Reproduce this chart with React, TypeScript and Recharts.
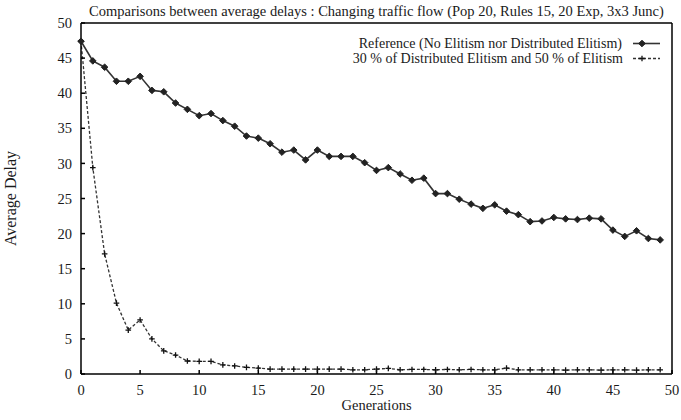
import React from "react";
import { LineChart, Line, XAxis, YAxis, Legend } from "recharts";

const generations = [
  0, 1, 2, 3, 4, 5, 6, 7, 8, 9, 10, 11, 12, 13, 14, 15, 16, 17, 18, 19, 20, 21, 22, 23, 24,
  25, 26, 27, 28, 29, 30, 31, 32, 33, 34, 35, 36, 37, 38, 39, 40, 41, 42, 43, 44, 45, 46, 47, 48, 49,
];

const referenceDelay = [
  47.4, 44.6, 43.7, 41.7, 41.7, 42.4, 40.4, 40.2, 38.6, 37.7,
  36.8, 37.1, 36.1, 35.3, 33.9, 33.6, 32.8, 31.6, 31.9, 30.5,
  31.9, 31.0, 31.0, 31.0, 30.1, 29.0, 29.4, 28.5, 27.6, 27.9,
  25.7, 25.7, 24.9, 24.2, 23.6, 24.1, 23.2, 22.7, 21.7, 21.8,
  22.3, 22.1, 22.0, 22.2, 22.1, 20.5, 19.6, 20.4, 19.3, 19.1,
];

const elitismDelay = [
  47.4, 29.4, 17.1, 10.1, 6.25, 7.7, 5.0, 3.3, 2.7, 1.85,
  1.8, 1.8, 1.3, 1.15, 0.95, 0.85, 0.7, 0.7, 0.7, 0.7,
  0.7, 0.7, 0.7, 0.6, 0.6, 0.7, 0.8, 0.6, 0.65, 0.65,
  0.6, 0.65, 0.6, 0.65, 0.6, 0.6, 0.85, 0.6, 0.6, 0.6,
  0.6, 0.55, 0.6, 0.6, 0.55, 0.6, 0.6, 0.55, 0.6, 0.6,
];

const seriesNames = [
  "Reference (No Elitism nor Distributed Elitism)",
  "30 % of Distributed Elitism and 50 % of Elitism",
];

const xTicks = [0, 5, 10, 15, 20, 25, 30, 35, 40, 45, 50];
const yTicks = [0, 5, 10, 15, 20, 25, 30, 35, 40, 45, 50];

const title =
  "Comparisons between average delays : Changing traffic flow (Pop 20, Rules 15, 20 Exp, 3x3 Junc)";

const FONT = '"Liberation Serif", "Times New Roman", serif';
const FS = 14.5;
const INK = "#1a1a1a";

const data = generations.map((g, i) => ({
  gen: g,
  reference: referenceDelay[i],
  elitism: elitismDelay[i],
}));

// filled diamond marker for the reference run
const Diamond = (props: any) => {
  const { cx, cy, index } = props;
  if (cx == null || cy == null) return <g key={`d-${index}`} />;
  const r = 3.3;
  return (
    <path
      key={`d-${index}`}
      d={`M${cx},${cy - r}L${cx + r},${cy}L${cx},${cy + r}L${cx - r},${cy}Z`}
      fill="#222"
      stroke="#222"
      strokeWidth={1}
    />
  );
};

// plus marker for the elitism run
const Plus = (props: any) => {
  const { cx, cy, index } = props;
  if (cx == null || cy == null) return <g key={`p-${index}`} />;
  const r = 2.8;
  return (
    <path
      key={`p-${index}`}
      d={`M${cx - r},${cy}L${cx + r},${cy}M${cx},${cy - r}L${cx},${cy + r}`}
      stroke="#111"
      strokeWidth={1.3}
      fill="none"
    />
  );
};

const LegendBox = () => (
  <svg width={340} height={42} style={{ display: "block" }}>
    <text x={292} y={18} textAnchor="end" fontFamily={FONT} fontSize={14} fill={INK}>
      {seriesNames[0]}
    </text>
    <line x1={303} x2={330} y1={13.5} y2={13.5} stroke="#333" strokeWidth={1.6} />
    <Diamond cx={312} cy={13.5} index={0} />
    <text x={293} y={33} textAnchor="end" fontFamily={FONT} fontSize={14} fill={INK}>
      {seriesNames[1]}
    </text>
    <line x1={303} x2={330} y1={28.5} y2={28.5} stroke="#333" strokeWidth={1.3} strokeDasharray="3 2" />
    <Plus cx={312} cy={28.5} index={1} />
  </svg>
);

export default function App() {
  const tickStyle = { fontFamily: FONT, fontSize: FS, fill: INK };
  return (
    <div style={{ position: "absolute", left: 0, top: 0, width: 681, height: 420, background: "#fff" }}>
      <div
        style={{
          position: "absolute",
          left: 81,
          top: 3,
          width: 591,
          textAlign: "center",
          fontFamily: FONT,
          fontSize: FS,
          lineHeight: "16px",
          color: INK,
          whiteSpace: "nowrap",
        }}
      >
        {title}
      </div>
      <LineChart width={681} height={420} data={data} margin={{ top: 23, right: 9, bottom: 0, left: 0 }}>
        <XAxis
          dataKey="gen"
          type="number"
          domain={[0, 50]}
          ticks={xTicks}
          interval={0}
          height={46}
          stroke="#000"
          strokeWidth={1.5}
          tickSize={-4}
          tickMargin={15}
          tick={tickStyle}
          label={{
            value: "Generations",
            position: "insideBottom",
            offset: 10,
            style: { fontFamily: FONT, fontSize: FS, fill: INK },
          }}
        />
        <XAxis
          xAxisId="top"
          orientation="top"
          dataKey="gen"
          type="number"
          domain={[0, 50]}
          ticks={xTicks}
          mirror
          tick={false}
          tickSize={4}
          stroke="#000"
          strokeWidth={1.5}
        />
        <YAxis
          type="number"
          domain={[0, 50]}
          ticks={yTicks}
          interval={0}
          width={81}
          stroke="#000"
          strokeWidth={1.5}
          tickSize={-4}
          tickMargin={13}
          tick={tickStyle}
          label={{
            value: "Average Delay",
            angle: -90,
            position: "insideLeft",
            offset: 10,
            style: { fontFamily: FONT, fontSize: 16, fill: INK, textAnchor: "middle" },
          }}
        />
        <YAxis
          yAxisId="right"
          orientation="right"
          type="number"
          domain={[0, 50]}
          ticks={yTicks}
          mirror
          tick={false}
          tickSize={4}
          stroke="#000"
          strokeWidth={1.5}
        />
        <Legend
          layout="horizontal"
          verticalAlign="middle"
          content={() => <LegendBox />}
          wrapperStyle={{ top: 30, left: 330, width: 340, height: 42 }}
        />
        <Line
          dataKey="elitism"
          name={seriesNames[1]}
          stroke="#333"
          strokeWidth={1.3}
          strokeDasharray="3 2"
          dot={Plus}
          activeDot={false}
          isAnimationActive={false}
        />
        <Line
          dataKey="reference"
          name={seriesNames[0]}
          stroke="#333"
          strokeWidth={1.6}
          dot={Diamond}
          activeDot={false}
          isAnimationActive={false}
        />
      </LineChart>
    </div>
  );
}
